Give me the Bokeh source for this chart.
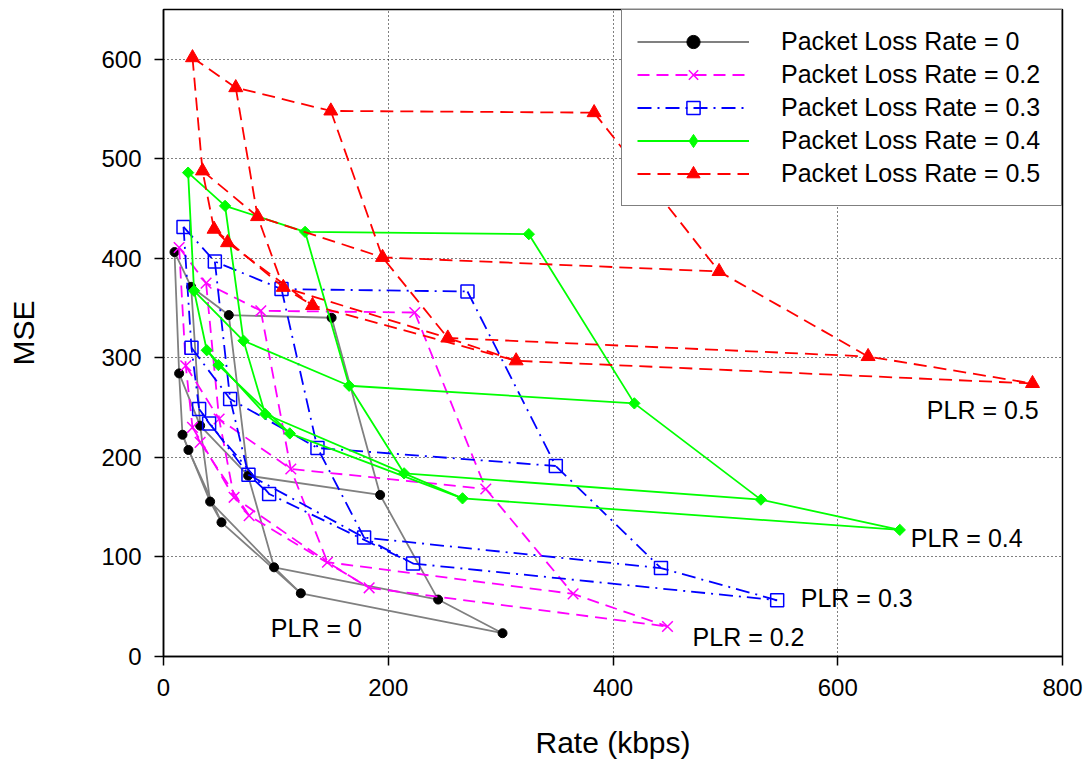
import numpy as np
from bokeh.plotting import figure
from bokeh.models import Range1d, Legend, LegendItem, ColumnDataSource, FixedTicker
from bokeh.core.properties import value
from bokeh.embed import file_html
from bokeh.resources import INLINE

# Each packet-loss case is a 4x4 mesh: rows = quality levels (top row = highest MSE),
# columns = rate groups. Values in kbps / MSE.
rate_plr0 = [[9.8, 24.6, 58.1, 149.6],
             [13.9, 32.6, 75.3, 192.8],
             [16.9, 41.5, 98.4, 244.4],
             [22.2, 51.6, 122.2, 301.7]]
mse_plr0 = [[406.3, 371.4, 343.0, 340.3],
            [284.4, 231.9, 181.7, 162.3],
            [222.8, 155.6, 89.6, 57.2],
            [207.5, 134.8, 63.5, 23.4]]

rate_plr02 = [[13.9, 37.9, 86.6, 223.6],
              [19.8, 49.5, 113.3, 286.8],
              [25.8, 62.8, 145.9, 364.5],
              [32.6, 76.2, 183.0, 448.5]]
mse_plr02 = [[410.9, 375.1, 347.3, 345.6],
             [292.1, 238.6, 188.4, 168.3],
             [230.2, 159.9, 94.7, 62.9],
             [215.1, 141.5, 69.0, 30.1]]

rate_plr03 = [[17.8, 45.7, 105.0, 270.5],
              [24.9, 59.3, 137.0, 349.1],
              [31.7, 75.6, 178.5, 442.7],
              [40.6, 94.0, 222.1, 546.1]]
mse_plr03 = [[431.6, 396.8, 369.1, 366.7],
             [310.2, 258.7, 209.5, 191.4],
             [248.6, 182.7, 119.5, 88.8],
             [234.2, 163.3, 93.4, 56.5]]

rate_plr04 = [[21.9, 54.8, 126.0, 325.1],
              [27.2, 71.2, 165.2, 419.0],
              [38.5, 90.4, 214.1, 531.6],
              [48.9, 112.4, 266.1, 655.2]]
mse_plr04 = [[486.1, 452.7, 426.6, 424.3],
             [367.4, 317.2, 272.0, 254.3],
             [307.7, 243.6, 184.0, 157.6],
             [292.8, 224.1, 158.9, 127.2]]

rate_plr05 = [[25.8, 64.3, 148.9, 383.2],
              [34.7, 83.7, 194.9, 494.4],
              [45.0, 106.6, 253.0, 627.0],
              [57.0, 132.6, 313.8, 773.3]]
mse_plr05 = [[601.6, 571.5, 548.1, 546.4],
             [487.9, 442.0, 401.0, 386.8],
             [429.3, 370.9, 320.0, 301.4],
             [415.8, 352.7, 297.1, 274.3]]

legend_labels = ["Packet Loss Rate = 0", "Packet Loss Rate = 0.2", "Packet Loss Rate = 0.3",
                 "Packet Loss Rate = 0.4", "Packet Loss Rate = 0.5"]
curve_labels = ["PLR = 0", "PLR = 0.2", "PLR = 0.3", "PLR = 0.4", "PLR = 0.5"]
x_ticks = [0, 200, 400, 600, 800]
y_ticks = [0, 100, 200, 300, 400, 500, 600]

# annotation placement (data coordinates of text start / baseline)
label_x = [95.5, 470.8, 567.1, 665.0, 679.3]
label_y = [28.5, 20.0, 59.0, 119.5, 248.0]

FONT = "Liberation Sans"

p = figure(width=1091, height=766, output_backend="svg", toolbar_location=None,
           x_range=Range1d(0, 800), y_range=Range1d(0, 650),
           min_border_left=163, min_border_right=29, min_border_top=9, min_border_bottom=110,
           background_fill_color="white", border_fill_color="white")

p.outline_line_color = "black"
p.outline_line_width = 1.5
p.outline_line_alpha = 1

for ax in (p.xaxis, p.yaxis):
    ax.axis_line_color = "black"
    ax.axis_line_width = 1.5
    ax.major_tick_line_color = "black"
    ax.major_tick_line_width = 1.5
    ax.major_tick_out = 9
    ax.major_tick_in = 0
    ax.minor_tick_line_color = None
    ax.major_label_text_font = FONT
    ax.major_label_text_font_size = "24px"
    ax.major_label_text_color = "black"
    ax.major_label_standoff = 13
    ax.axis_label_text_font = FONT
    ax.axis_label_text_font_size = "30px"
    ax.axis_label_text_font_style = "normal"
    ax.axis_label_text_color = "black"

p.xaxis.ticker = FixedTicker(ticks=x_ticks)
p.yaxis.ticker = FixedTicker(ticks=y_ticks)
p.xaxis.axis_label = "Rate (kbps)"
p.yaxis.axis_label = "MSE"
p.xaxis.axis_label_standoff = 27
p.yaxis.axis_label_standoff = 58

for g in (p.xgrid, p.ygrid):
    g.grid_line_color = "black"
    g.grid_line_dash = "1 3"
    g.grid_line_width = 1
    g.grid_line_alpha = 1

series = [
    dict(rate=rate_plr0, mse=mse_plr0, line_color="#808080", dash="solid", marker="circle",
         size=9, fill="black", mline="black", angle=0.0, mlw=1, legend_marker=None),
    dict(rate=rate_plr02, mse=mse_plr02, line_color="#ff00ff", dash="12 7", marker="x",
         size=15, fill=None, mline="#ff00ff", angle=0.0, mlw=1.5, legend_marker=None),
    dict(rate=rate_plr03, mse=mse_plr03, line_color="#0000ff", dash="14 6 2 6", marker="square",
         size=13, fill=None, mline="#0000ff", angle=0.0, mlw=1.5, legend_marker=None),
    dict(rate=rate_plr04, mse=mse_plr04, line_color="#00ff00", dash="solid", marker="square",
         size=8, fill="#00ff00", mline="#00ff00", angle=np.pi / 4, mlw=1, legend_marker="diamond"),
    dict(rate=rate_plr05, mse=mse_plr05, line_color="#ff0000", dash="13 7", marker="triangle",
         size=14, fill="#ff0000", mline="#ff0000", angle=0.0, mlw=1, legend_marker=None),
]

items = []
for s, lab in zip(series, legend_labels):
    r = np.array(s["rate"], dtype=float)
    m = np.array(s["mse"], dtype=float)
    xs = [list(r[i, :]) for i in range(4)] + [list(r[:, j]) for j in range(4)]
    ys = [list(m[i, :]) for i in range(4)] + [list(m[:, j]) for j in range(4)]
    lr = p.multi_line(xs=xs, ys=ys, line_color=s["line_color"], line_width=1.8,
                      line_dash=s["dash"])
    src = ColumnDataSource(dict(x=r.ravel(), y=m.ravel()))
    kw = dict(marker=s["marker"], size=s["size"], line_color=s["mline"],
              line_width=s["mlw"], angle=s["angle"])
    if s["fill"] is None:
        kw["fill_alpha"] = 0
        kw["fill_color"] = "white"
    else:
        kw["fill_color"] = s["fill"]
    sr = p.scatter("x", "y", source=src, **kw)
    leg_r = sr
    if s["legend_marker"] is not None:
        # diamond glyph hidden under the rotated squares; used for the legend swatch
        leg_r = p.scatter("x", "y", source=src, marker=s["legend_marker"], size=8,
                          fill_color=s["fill"], line_color=s["mline"], line_width=1)
    items.append(LegendItem(label=lab, renderers=[lr, leg_r]))

# curve annotations
p.text(x=label_x, y=label_y, text=curve_labels, text_font=value(FONT),
       text_font_size="25px", text_color="black", text_align="left",
       text_baseline="alphabetic")

legend = Legend(items=items, location="top_right", margin=0, padding=15, spacing=0,
                glyph_width=112, glyph_height=33, label_height=33, label_width=265,
                label_standoff=32, label_text_font=FONT, label_text_font_size="25px",
                label_text_color="black", border_line_color="black", border_line_width=1.5,
                background_fill_color="white", background_fill_alpha=1)
p.add_layout(legend)

open("out.html", "w").write(file_html(p, INLINE))
